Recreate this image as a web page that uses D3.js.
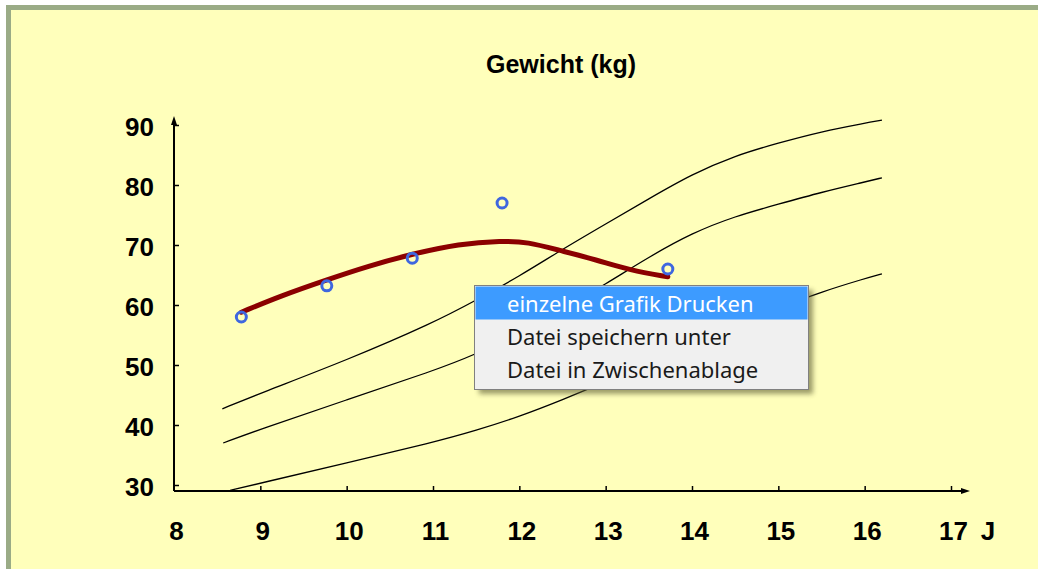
<!DOCTYPE html>
<html>
<head>
<meta charset="utf-8">
<script src="https://cdn.jsdelivr.net/npm/d3@7"></script>
<style>
  html, body { margin: 0; padding: 0; background: #ffffff; }
  svg { display: block; }
</style>
</head>
<body>
<svg id="chart" width="1038" height="569"></svg>
<script>
// ---- data ----
const xTicks = [8, 9, 10, 11, 12, 13, 14, 15, 16, 17];
const yTicks = [30, 40, 50, 60, 70, 80, 90];
const titleText = "Gewicht (kg)";
const xUnit = "J";

// measured weights (age in years, weight in kg)
const measAges = [8.78, 9.77, 10.76, 11.8, 13.72];
const measWeights = [58, 63.2, 67.8, 77, 66];

// smoothed trend line
const trendAges = [8.78, 9.25, 9.77, 10.25, 10.76, 11.3, 11.8, 12.1, 12.44, 12.9, 13.28, 13.72];
const trendWeights = [58.8, 61.6, 64.2, 66.5, 68.5, 70.2, 70.7, 70.5, 69.2, 67.5, 65.8, 64.7];

// reference percentile curves
const upperAges = [8.56, 9, 10, 11, 11.5, 12, 12.5, 13, 13.5, 14, 14.5, 15, 15.5, 16, 16.2];
const upperWeights = [42.7, 45.3, 50.8, 57, 60.8, 64.8, 69.3, 73.5, 77.7, 81.8, 84.9, 87, 88.9, 90.3, 90.8];
const midAges = [8.57, 9, 10, 11, 11.5, 12, 12.5, 13, 13.5, 14, 14.5, 15, 15.5, 16, 16.2];
const midWeights = [37, 39.3, 44.2, 49, 51.8, 55.3, 59.3, 63.5, 68, 72, 74.8, 76.8, 78.8, 80.5, 81.2];
const lowerAges = [8.65, 9, 10, 11, 11.5, 12, 12.5, 13, 13.5, 14, 14.5, 15, 15.5, 16, 16.2];
const lowerWeights = [29.1, 30.3, 33.7, 37.1, 39.1, 41.4, 44.2, 47.2, 50.3, 53.4, 56.5, 59.5, 62.2, 64.4, 65.2];

// context menu entries
const menuItems = ["einzelne Grafik Drucken", "Datei speichern unter", "Datei in Zwischenablage"];

// ---- drawing ----
const svg = d3.select("#chart");
const font = "'Liberation Sans', Arial, sans-serif";

// frame
svg.append("rect").attr("x", 6).attr("y", 5).attr("width", 1032).attr("height", 564).attr("fill", "#9aab86");
svg.append("rect").attr("x", 11).attr("y", 10).attr("width", 1027).attr("height", 559).attr("fill", "#ffffbb");

const x = d3.scaleLinear().domain([8, 17]).range([174, 951]);
const y = d3.scaleLinear().domain([30, 90]).range([485, 125]);
const axisY = 491;

// title
svg.append("text").attr("x", 561).attr("y", 73).attr("text-anchor", "middle")
  .attr("font-family", font).attr("font-size", 25).attr("font-weight", "bold")
  .attr("fill", "#000").text(titleText);

// axes
const gx = svg.append("g").attr("transform", `translate(0,${axisY})`)
  .call(d3.axisBottom(x).tickValues(xTicks).tickSizeInner(-5).tickSizeOuter(0).tickPadding(31).tickFormat(d3.format("d")));
const gy = svg.append("g").attr("transform", `translate(${x(8)},0)`)
  .call(d3.axisLeft(y).tickValues(yTicks).tickSizeInner(-5).tickSizeOuter(0).tickPadding(20).tickFormat(d3.format("d")));
[gx, gy].forEach(g => {
  g.select(".domain").remove();
  g.selectAll(".tick line").attr("stroke", "#000").attr("stroke-width", 1.5);
  g.selectAll(".tick text").attr("font-family", font).attr("font-size", 26)
    .attr("font-weight", "bold").attr("fill", "#000");
});
gx.selectAll(".tick").filter(d => d === 8).select("line").remove();
gx.selectAll(".tick text").attr("dx", 2);
gy.selectAll(".tick text").attr("dy", "0.42em");

// axis lines with arrows
svg.append("line").attr("x1", x(8)).attr("x2", 966).attr("y1", axisY).attr("y2", axisY)
  .attr("stroke", "#000").attr("stroke-width", 2);
svg.append("line").attr("x1", x(8)).attr("x2", x(8)).attr("y1", axisY).attr("y2", 119)
  .attr("stroke", "#000").attr("stroke-width", 2);
svg.append("path").attr("d", `M${x(8)},116 L${x(8) - 3},125 L${x(8) + 3},125 Z`).attr("fill", "#000");
svg.append("path").attr("d", `M970,${axisY} L961,${axisY - 3} L961,${axisY + 3} Z`).attr("fill", "#000");

// x unit
svg.append("text").attr("x", 988).attr("y", axisY + 31).attr("dy", "0.71em").attr("text-anchor", "middle")
  .attr("font-family", font).attr("font-size", 26).attr("font-weight", "bold").attr("fill", "#000").text(xUnit);

// percentile curves
const line = d3.line().x(d => x(d[0])).y(d => y(d[1])).curve(d3.curveBasis);
[[upperAges, upperWeights], [midAges, midWeights], [lowerAges, lowerWeights]].forEach(([a, w]) => {
  svg.append("path").attr("d", line(a.map((v, i) => [v, w[i]])))
    .attr("fill", "none").attr("stroke", "#000").attr("stroke-width", 1.3);
});

// trend
svg.append("path").attr("d", d3.line().x(d => x(d[0])).y(d => y(d[1])).curve(d3.curveBasis)(trendAges.map((v, i) => [v, trendWeights[i]])))
  .attr("fill", "none").attr("stroke", "#8b0000").attr("stroke-width", 5).attr("stroke-linecap", "round");

// measured points
svg.selectAll("circle.pt").data(measAges.map((v, i) => [v, measWeights[i]])).enter()
  .append("circle").attr("class", "pt")
  .attr("cx", d => x(d[0])).attr("cy", d => y(d[1])).attr("r", 5)
  .attr("fill", "none").attr("stroke", "#3f67df").attr("stroke-width", 3);

// context menu
const defs = svg.append("defs");
const f = defs.append("filter").attr("id", "blur").attr("x", "-10%").attr("y", "-10%").attr("width", "130%").attr("height", "140%");
f.append("feGaussianBlur").attr("stdDeviation", 2.5);
const mx = 474, my = 285, mw = 334, mh = 104, rowH = 33;
svg.append("rect").attr("x", mx + 5).attr("y", my + 5).attr("width", mw).attr("height", mh)
  .attr("fill", "#5c5c30").attr("opacity", 0.6).attr("filter", "url(#blur)");
svg.append("rect").attr("x", mx + 0.5).attr("y", my + 0.5).attr("width", mw).attr("height", mh)
  .attr("fill", "#f0f0f0").attr("stroke", "#808080").attr("stroke-width", 1);
svg.append("rect").attr("x", mx + 1.5).attr("y", my + 1.5).attr("width", mw - 2).attr("height", rowH)
  .attr("fill", "#3d9bff");
const baselines = [312, 345, 378];
menuItems.forEach((t, i) => {
  svg.append("text").attr("x", 507).attr("y", baselines[i])
    .attr("font-family", "'Noto Sans', 'Open Sans', sans-serif").attr("font-size", 22)
    .attr("fill", i === 0 ? "#ffffff" : "#1a1a1a").text(t);
});
</script>
</body>
</html>
